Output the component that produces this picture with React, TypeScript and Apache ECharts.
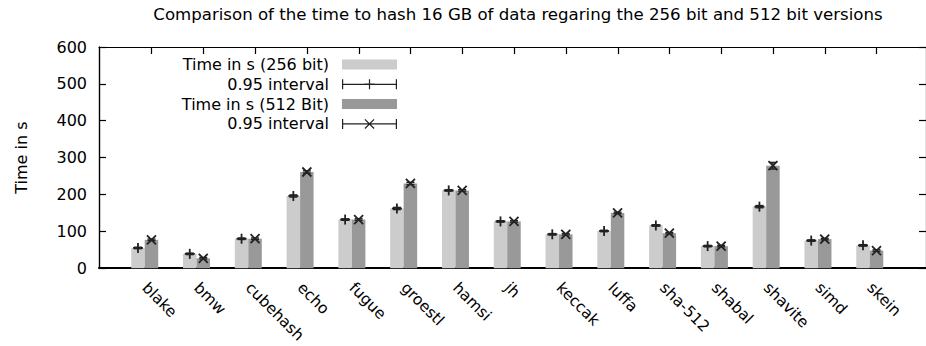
import React, { useEffect, useRef } from "react";
import * as echarts from "echarts";

const categories = ["blake", "bmw", "cubehash", "echo", "fugue", "groestl", "hamsi", "jh", "keccak", "luffa", "sha-512", "shabal", "shavite", "simd", "skein"];
const time256 = [55, 39, 80, 196, 132, 162, 211, 127, 92, 101, 116, 60, 167, 75, 62];
const time512 = [77, 27, 80, 261, 132, 230, 211, 127, 92, 150, 95, 60, 278, 79, 48];
const ci256 = [2, 2, 2, 3, 2, 3, 2, 2, 2, 2, 2, 2, 3, 2, 2];
const ci512 = [2, 2, 2, 3, 2, 3, 2, 2, 2, 2, 2, 2, 9, 2, 2];

const TITLE = "Comparison of the time to hash 16 GB of data regaring the 256 bit and 512 bit versions";
const NAME256 = "Time in s (256 bit)";
const NAME512 = "Time in s (512 Bit)";
const CI256 = "0.95 interval (256)";
const CI512 = "0.95 interval (512)";

const FONT = "DejaVu Sans";
const LIGHT = "#cccccc";
const DARK = "#999999";
const INK = "#222222";
const BAR_W = 13.5;
const X_MIN = -0.883;
const X_MAX = 15.086;

const plusIcon =
  "path://M0 0H1.2V10H0Z M53.8 0H55V10H53.8Z M0 4.4H55V5.6H0Z M26.9 0H28.1V10H26.9Z M22.5 4.3H32.5V5.7H22.5Z";
const crossIcon =
  "path://M0 0H1.2V10H0Z M53.8 0H55V10H53.8Z M0 4.4H55V5.6H0Z M22.5 0.85L23.35 0L32.5 9.15L31.65 10Z M31.65 0L32.5 0.85L23.35 10L22.5 9.15Z";

function makeErrRender(offset: number, kind: "plus" | "cross") {
  return (params: any, api: any) => {
    const i = api.value(0);
    const v = api.value(1);
    const e = api.value(2);
    const p = api.coord([i, v]);
    const cx = p[0] + offset;
    const cy = p[1];
    const yTop = api.coord([i, v + e])[1];
    const yBot = api.coord([i, v - e])[1];
    const style = { stroke: INK, lineWidth: 1.4, fill: null };
    const mk = { stroke: INK, lineWidth: 1.8, fill: null };
    const children: any[] = [
      { type: "line", shape: { x1: cx, y1: yTop, x2: cx, y2: yBot }, style },
      { type: "line", shape: { x1: cx - 4, y1: yTop, x2: cx + 4, y2: yTop }, style },
      { type: "line", shape: { x1: cx - 4, y1: yBot, x2: cx + 4, y2: yBot }, style },
    ];
    if (kind === "plus") {
      children.push({ type: "line", shape: { x1: cx - 5, y1: cy, x2: cx + 5, y2: cy }, style: mk });
      children.push({ type: "line", shape: { x1: cx, y1: cy - 5, x2: cx, y2: cy + 5 }, style: mk });
    } else {
      children.push({ type: "line", shape: { x1: cx - 4.5, y1: cy - 4.5, x2: cx + 4.5, y2: cy + 4.5 }, style: mk });
      children.push({ type: "line", shape: { x1: cx - 4.5, y1: cy + 4.5, x2: cx + 4.5, y2: cy - 4.5 }, style: mk });
    }
    return { type: "group", children };
  };
}

export default function App() {
  const ref = useRef<HTMLDivElement>(null);
  useEffect(() => {
    if (!ref.current) return;
    const chart = echarts.init(ref.current, null, { renderer: "svg" });
    const idx = categories.map((_, i) => i);
    const topTicks = idx.map((i) => i + 0.134);
    chart.setOption({
      animation: false,
      backgroundColor: "#ffffff",
      textStyle: { fontFamily: FONT },
      title: {
        text: TITLE,
        left: 518,
        top: 6,
        padding: 0,
        textAlign: "center",
        textStyle: { fontFamily: FONT, fontSize: 16.6, fontWeight: "normal", color: "#000" },
      },
      legend: {
        orient: "vertical",
        align: "right",
        right: 529,
        top: 56.5,
        padding: 0,
        itemGap: 3.8,
        itemWidth: 55,
        itemHeight: 10,
        selectedMode: false,
        textStyle: { fontFamily: FONT, fontSize: 16, color: "#000", lineHeight: 15, padding: [0, 8, 0, 0] },
        formatter: (name: string) => (name === CI256 || name === CI512 ? "0.95 interval" : name),
        data: [
          { name: NAME256, icon: "rect" },
          { name: CI256, icon: plusIcon },
          { name: NAME512, icon: "rect" },
          { name: CI512, icon: crossIcon },
        ],
      },
      grid: { left: 99, right: -5, top: 47, bottom: 77, containLabel: false },
      xAxis: [
        {
          type: "value",
          position: "bottom",
          min: X_MIN,
          max: X_MAX,
          splitLine: { show: false },
          axisLine: { show: true, onZero: false, lineStyle: { color: "#000", width: 2 } },
          axisTick: { show: false },
          axisLabel: {
            customValues: idx,
            formatter: (v: number) => categories[Math.round(v)] ?? "",
            rotate: -45,
            margin: 17,
            fontFamily: FONT,
            fontSize: 15.5,
            color: "#000",
          },
        },
        {
          type: "value",
          position: "top",
          min: X_MIN,
          max: X_MAX,
          splitLine: { show: false },
          axisLine: { show: true, onZero: false, lineStyle: { color: "#000", width: 1.2 } },
          axisTick: { show: true, inside: true, length: 7, customValues: topTicks, lineStyle: { color: "#000", width: 1.2 } },
          axisLabel: { show: false },
        },
      ],
      yAxis: [
        {
          type: "value",
          min: 0,
          max: 600,
          interval: 100,
          name: "Time in s",
          nameLocation: "middle",
          nameGap: 70,
          nameTextStyle: { fontFamily: FONT, fontSize: 16, color: "#000" },
          splitLine: { show: false },
          axisLine: { show: true, onZero: false, lineStyle: { color: "#000", width: 1.4 } },
          axisTick: { show: true, inside: true, length: 7, lineStyle: { color: "#000", width: 1.2 } },
          axisLabel: { margin: 12, fontFamily: FONT, fontSize: 16, color: "#000" },
        },
        {
          type: "value",
          position: "right",
          min: 0,
          max: 600,
          interval: 100,
          splitLine: { show: false },
          axisLine: { show: true, onZero: false, lineStyle: { color: "#000", width: 1.2 } },
          axisTick: { show: true, inside: true, length: 7, lineStyle: { color: "#000", width: 1.2 } },
          axisLabel: { show: false },
        },
      ],
      series: [
        {
          name: NAME256,
          type: "bar",
          xAxisIndex: 0,
          yAxisIndex: 0,
          barWidth: BAR_W,
          barGap: "0%",
          itemStyle: { color: LIGHT },
          data: idx.map((i) => [i, time256[i]]),
          z: 2,
        },
        {
          name: NAME512,
          type: "bar",
          xAxisIndex: 0,
          yAxisIndex: 0,
          barWidth: BAR_W,
          barGap: "0%",
          itemStyle: { color: DARK },
          data: idx.map((i) => [i, time512[i]]),
          z: 2,
        },
        {
          name: CI256,
          type: "custom",
          xAxisIndex: 0,
          yAxisIndex: 0,
          itemStyle: { color: INK },
          renderItem: makeErrRender(-BAR_W / 2, "plus"),
          data: idx.map((i) => [i, time256[i], ci256[i]]),
          z: 5,
        },
        {
          name: CI512,
          type: "custom",
          xAxisIndex: 0,
          yAxisIndex: 0,
          itemStyle: { color: INK },
          renderItem: makeErrRender(BAR_W / 2, "cross"),
          data: idx.map((i) => [i, time512[i], ci512[i]]),
          z: 5,
        },
      ],
    });
    return () => chart.dispose();
  }, []);
  return <div ref={ref} style={{ position: "fixed", left: 0, top: 0, width: 926, height: 346 }} />;
}
